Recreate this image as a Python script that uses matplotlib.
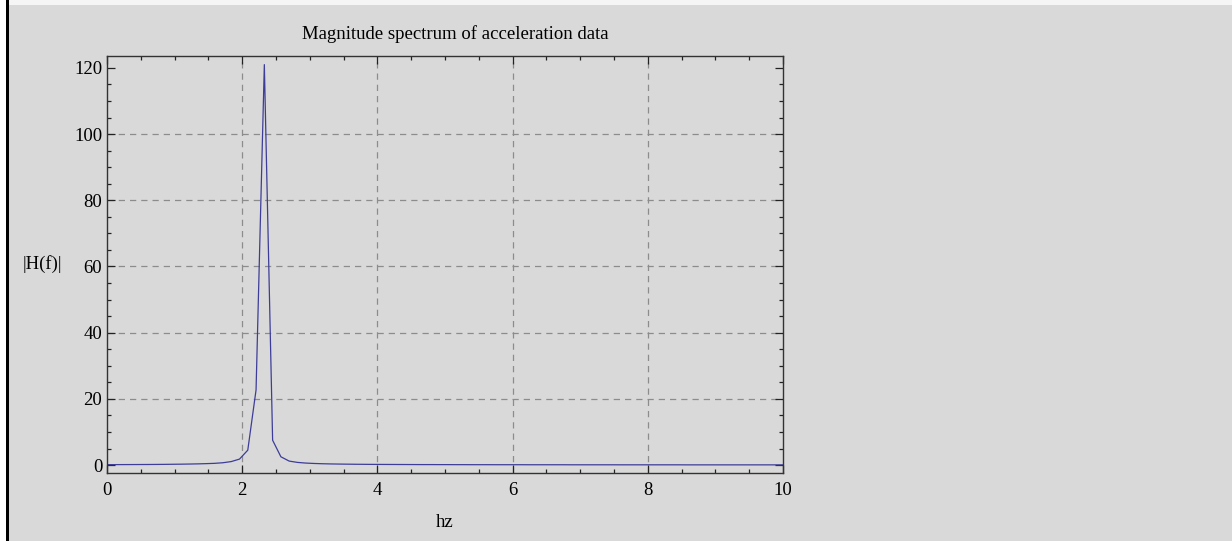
import numpy as np
import matplotlib
matplotlib.use('Agg')
import matplotlib.pyplot as plt
from matplotlib.patches import Rectangle

# spectrum magnitude (bin spacing ~0.1225 hz)
df = 0.1225
mag = [0.12, 0.13, 0.14, 0.15, 0.16, 0.17, 0.19, 0.21, 0.24, 0.27,
       0.31, 0.36, 0.43, 0.52, 0.70, 1.05, 1.8, 4.5, 22.7, 121.0,
       7.5, 2.5, 1.2, 0.8, 0.6, 0.48, 0.40, 0.34, 0.30, 0.27,
       0.24, 0.22, 0.20, 0.19, 0.18, 0.17, 0.16, 0.15, 0.14, 0.14,
       0.13, 0.13, 0.12, 0.12, 0.11, 0.11, 0.11, 0.10, 0.10, 0.10,
       0.10, 0.09, 0.09, 0.09, 0.09, 0.09, 0.08, 0.08, 0.08, 0.08,
       0.08, 0.08, 0.07, 0.07, 0.07, 0.07, 0.07, 0.07, 0.07, 0.07,
       0.06, 0.06, 0.06, 0.06, 0.06, 0.06, 0.06, 0.06, 0.06, 0.06,
       0.06, 0.06, 0.06]
freq = np.arange(len(mag)) * df

xticks = [0, 2, 4, 6, 8, 10]
yticks = [0, 20, 40, 60, 80, 100, 120]

plt.rcParams['font.family'] = ['Liberation Serif', 'DejaVu Serif']
fs = 13.5

bg = '#d9d9d9'
fig = plt.figure(figsize=(12.32, 5.41), dpi=100, facecolor=bg)
# white strip on top / left and the black border line
fig.patches.append(Rectangle((0, 1 - 5/541), 1, 5/541, transform=fig.transFigure,
                             facecolor='#f5f5f5', edgecolor='none', zorder=0))
fig.patches.append(Rectangle((0, 0), 6/1232, 1, transform=fig.transFigure,
                             facecolor='white', edgecolor='none', zorder=0))
fig.patches.append(Rectangle((6/1232, 0), 2.5/1232, 1, transform=fig.transFigure,
                             facecolor='black', edgecolor='none', zorder=1))

ax = fig.add_axes([107/1232, 68/541, 676/1232, 417/541])
ax.set_facecolor(bg)

# grid only on the inner major ticks
for x in xticks[1:-1]:
    ax.axvline(x, color='#8c8c8c', lw=0.9, ls=(0, (5, 4)), zorder=1)
for y in yticks[1:-1]:
    ax.axhline(y, color='#8c8c8c', lw=0.9, ls=(0, (5, 4)), zorder=1)

ax.plot(freq, mag, color='#3d3d99', lw=0.9, zorder=2)

ax.set_xlim(0, 10)
ax.set_ylim(-2.4, 123.6)
ax.set_xticks(xticks)
ax.set_yticks(yticks)
ax.set_xticks(np.arange(0, 10.01, 0.5), minor=True)
ax.set_yticks(np.arange(0, 123, 5), minor=True)
ax.tick_params(which='both', direction='in', top=True, right=True,
               color='#222222', width=0.9)
ax.tick_params(which='major', length=5.5, labelsize=fs)
ax.tick_params(axis='x', which='major', pad=6.5)
ax.tick_params(axis='y', which='major', pad=3.5)
ax.tick_params(which='minor', length=3)
for s in ax.spines.values():
    s.set_color('#333333')
    s.set_linewidth(1.0)

ax.set_title('Magnitude spectrum of acceleration data', fontsize=fs, pad=12, x=0.515)
ax.set_xlabel('hz', fontsize=fs, labelpad=11)
ax.set_ylabel('|H(f)|', fontsize=fs, rotation=0, labelpad=22.5, va='center')

fig.savefig('out.png', dpi=100, facecolor=bg)
